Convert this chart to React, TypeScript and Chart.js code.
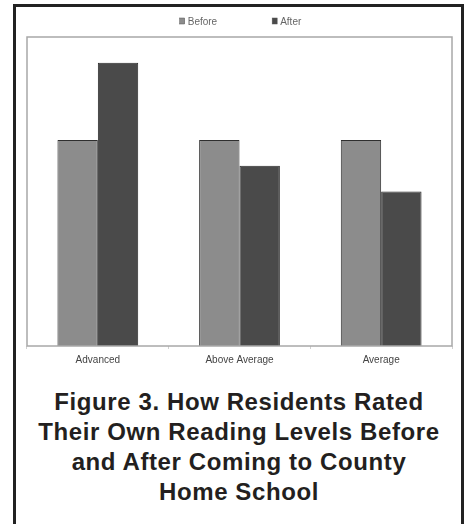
import React, { useEffect, useRef } from "react";
import { Chart, registerables } from "chart.js";

Chart.register(...registerables);

const categories = ["Advanced", "Above Average", "Average"];
const beforeValues = [8, 8, 8];
const afterValues = [11, 7, 6];
const seriesLabels = ["Before", "After"];
const captionLines = [
  "Figure 3. How Residents Rated",
  "Their Own Reading Levels Before",
  "and After Coming to County",
  "Home School",
];

const FONT = "'Liberation Sans', Arial, sans-serif";

const plotBorder = {
  id: "plotBorder",
  afterDraw(chart: any) {
    const { ctx, chartArea } = chart;
    ctx.save();
    ctx.strokeStyle = "#a8a8a8";
    ctx.lineWidth = 1.5;
    ctx.strokeRect(chartArea.left, chartArea.top, chartArea.right - chartArea.left, chartArea.bottom - chartArea.top);
    ctx.restore();
  },
};

const customLegend = {
  id: "customLegend",
  afterDraw(chart: any) {
    const { ctx, chartArea } = chart;
    const boxW = 5;
    const boxH = 6;
    const gapText = 3;
    const gapItems = 55;
    const y = 14;
    ctx.save();
    ctx.font = `10px ${FONT}`;
    const items = chart.data.datasets.map((ds: any) => ({
      label: ds.label,
      color: ds.backgroundColor,
      w: ctx.measureText(ds.label).width,
    }));
    let total = 0;
    items.forEach((it: any, i: number) => {
      total += boxW + gapText + it.w + (i > 0 ? gapItems : 0);
    });
    let x = (chartArea.left + chartArea.right) / 2 - total / 2 + 1;
    items.forEach((it: any) => {
      ctx.fillStyle = it.color;
      ctx.fillRect(x, y - boxH / 2, boxW, boxH);
      ctx.strokeStyle = "#555";
      ctx.lineWidth = 0.5;
      ctx.strokeRect(x, y - boxH / 2, boxW, boxH);
      ctx.fillStyle = "#666";
      ctx.textBaseline = "middle";
      ctx.textAlign = "left";
      ctx.fillText(it.label, x + boxW + gapText, y + 1);
      x += boxW + gapText + it.w + gapItems;
    });
    ctx.restore();
  },
};

function BarChart() {
  const ref = useRef<HTMLCanvasElement | null>(null);
  useEffect(() => {
    if (!ref.current) return;
    const chart = new Chart(ref.current, {
      type: "bar",
      data: {
        labels: categories,
        datasets: [
          {
            label: seriesLabels[0],
            data: beforeValues,
            backgroundColor: "#8c8c8c",
            borderColor: "#2e2e2e",
            borderWidth: 1,
            categoryPercentage: 0.57,
            barPercentage: 1,
          },
          {
            label: seriesLabels[1],
            data: afterValues,
            backgroundColor: "#4a4a4a",
            borderColor: "#2a2a2a",
            borderWidth: 1,
            categoryPercentage: 0.57,
            barPercentage: 1,
          },
        ],
      },
      options: {
        animation: false,
        responsive: false,
        maintainAspectRatio: false,
        layout: { padding: { top: 30, left: 11, right: 10, bottom: 9 } },
        plugins: {
          legend: { display: false },
          tooltip: { enabled: false },
          title: { display: false },
        },
        scales: {
          x: {
            grid: {
              display: true,
              drawOnChartArea: false,
              tickLength: 3,
              color: "#d0d0d0",
              offset: true,
            },
            border: { display: false },
            ticks: {
              padding: 5,
              color: "#444",
              font: { family: FONT, size: 10 },
              maxRotation: 0,
            },
          },
          y: {
            display: false,
            min: 0,
            max: 12,
          },
        },
      },
      plugins: [plotBorder, customLegend],
    });
    return () => chart.destroy();
  }, []);
  return (
    <canvas
      ref={ref}
      width={446}
      height={373}
      style={{ position: "absolute", left: 16, top: 7, width: 446, height: 373 }}
    />
  );
}

export default function App() {
  return (
    <div style={{ position: "absolute", left: 0, top: 0, width: 466, height: 524, overflow: "hidden", background: "#fff" }}>
      <div
        style={{
          position: "absolute",
          left: 13,
          top: 4,
          width: 451,
          height: 560,
          border: "3px solid #222",
          boxSizing: "border-box",
        }}
      />
      <BarChart />
      <div
        style={{
          position: "absolute",
          left: 16,
          top: 387,
          width: 446,
          textAlign: "center",
          fontFamily: FONT,
          fontWeight: "bold",
          fontSize: 24,
          lineHeight: "30px",
          letterSpacing: "0.6px",
          color: "#231f20",
        }}
      >
        {captionLines.map((l, i) => (
          <div key={i}>{l}</div>
        ))}
      </div>
    </div>
  );
}
